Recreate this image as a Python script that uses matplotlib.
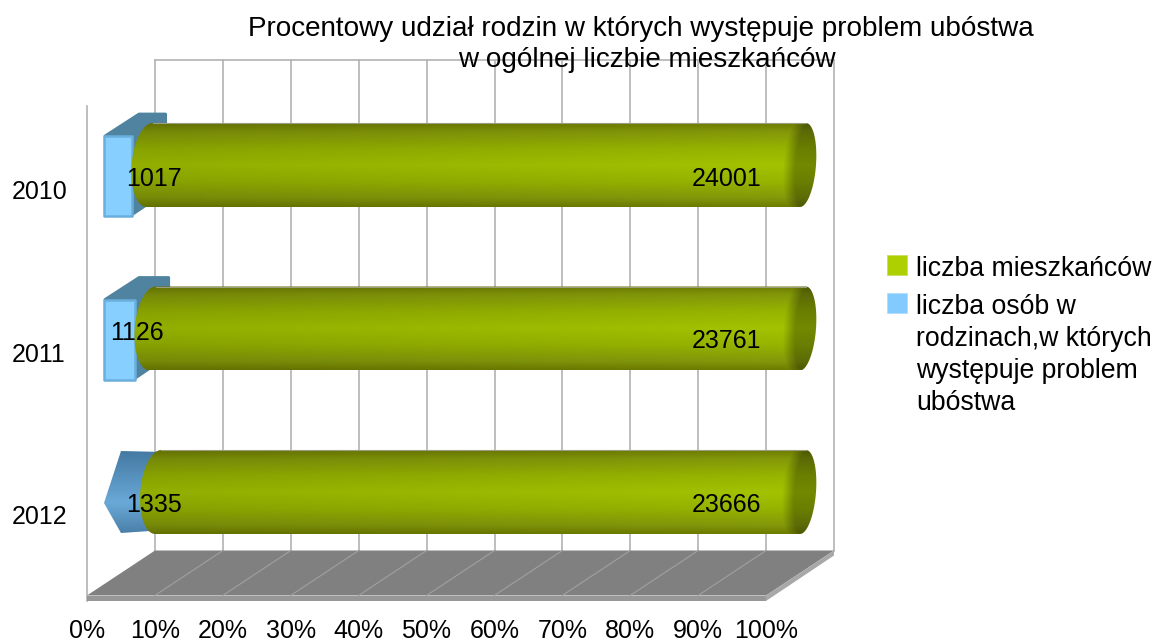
import numpy as np
import matplotlib
matplotlib.use("Agg")
import matplotlib.pyplot as plt
from matplotlib.patches import PathPatch, Polygon, Rectangle
from matplotlib.path import Path
from matplotlib.colors import LinearSegmentedColormap

plt.rcParams['font.family'] = ['Liberation Sans', 'DejaVu Sans']

years = ['2010', '2011', '2012']
residents = [24001, 23761, 23666]
poor = [1017, 1126, 1335]
xticks = [0, 10, 20, 30, 40, 50, 60, 70, 80, 90, 100]
title_lines = ['Procentowy udział rodzin w których występuje problem ubóstwa',
               'w ogólnej liczbie mieszkańców']
legend_labels = ['liczba mieszkańców',
                 'liczba osób w\nrodzinach,w których\nwystępuje problem\nubóstwa']

W, H = 1154, 641
PX = 6.79           # pixels per percent
X0 = 87             # pixel of 0 %
fig = plt.figure(figsize=(W / 100, H / 100), dpi=100)
ax = fig.add_axes([0, 0, 1, 1])
ax.set_xlim(-X0 / PX, (W - X0) / PX)
ax.set_ylim(H, 0)
ax.axis('off')

def dx(px):
    return px / PX

DX, DY = 68, 45          # depth of the floor, in pixels
floor_front = 595.5
floor_back = floor_front - DY
grid = '#b3b3b3'

# walls
for t in xticks:
    ax.plot([t + dx(DX)] * 2, [60, floor_back], color=grid, lw=1.2, zorder=1)
ax.plot([dx(DX), 100 + dx(DX)], [60, 60], color=grid, lw=1.2, zorder=1)
ax.plot([0, 0], [106, floor_front + 5], color=grid, lw=1.2, zorder=1)

# floor
ax.add_patch(Polygon([(0, floor_front), (dx(DX), floor_back), (100 + dx(DX), floor_back), (100, floor_front)],
                     fc='#808080', ec='none', zorder=2))
ax.add_patch(Polygon([(0, floor_front), (100, floor_front), (100, floor_front + 5.5), (0, floor_front + 5.5)],
                     fc='#979797', ec='none', zorder=2))
ax.add_patch(Polygon([(100, floor_front), (100 + dx(DX), floor_back), (100 + dx(DX), floor_back + 5), (100, floor_front + 5.5)],
                     fc='#a8a8a8', ec='none', zorder=2))
for t in xticks[1:-1]:
    ax.plot([t, t + dx(DX)], [floor_front, floor_back], color='#a0a0a0', lw=0.8, zorder=3)

green_stops = [(0, '#6e7e00'), (0.1, '#84990a'), (0.3, '#98b500'), (0.5, '#a4c400'),
               (0.7, '#98b500'), (0.9, '#84990a'), (1, '#6e7e00')]
blue_stops = [(0, '#447aa3'), (0.63, '#6aa9d8'), (1, '#4a80a8')]
green_cmap = LinearSegmentedColormap.from_list('green', green_stops)
blue_cmap = LinearSegmentedColormap.from_list('blue', blue_stops)

def clip_image(rgb, extent, path, zorder):
    im = ax.imshow(rgb, extent=extent, aspect='auto', zorder=zorder, interpolation='bilinear')
    patch = PathPatch(path, transform=ax.transData, fc='none', ec='none')
    ax.add_patch(patch)
    im.set_clip_path(patch)

def ellipse_side(cx, rx, y0, y1, side, skew=3.0, n=40):
    t = np.linspace(-np.pi / 2, np.pi / 2, n)
    ys = (y0 + y1) / 2 + (y1 - y0) / 2 * np.sin(t)
    xs = cx + dx(side * rx * np.cos(t) - skew * np.sin(t))
    if y0 > y1:
        xs = cx + dx(side * rx * np.cos(t) + skew * np.sin(t))
    return list(zip(xs, ys))

centers = [176, 339.5, 503]       # front-face centres of the bar rows, pixels
for i, yr in enumerate(years):
    total = residents[i] + poor[i]
    share = 100 * poor[i] / total
    c = centers[i]
    bx0 = dx(17)
    front_top, front_bot = c - 40, c + 40
    back_top = front_top - 23
    bdx = dx(35)
    if i < 2:
        side = [(bx0 + dx(1), front_top), (bx0 + bdx, back_top + 1), (bx0 + share + bdx - dx(1), back_top + 1),
                (bx0 + share + bdx - dx(1), back_top + 79), (bx0 + share, front_bot - 1), (bx0 + share, front_top)]
        ax.add_patch(Polygon(side, fc='#50839f', ec='#50839f', lw=2, joinstyle='round', zorder=4))
        ax.add_patch(Polygon([(bx0, front_top), (bx0 + share, front_top), (bx0 + share, front_bot), (bx0, front_bot)],
                             fc='#87cfff', ec='#6aaedc', lw=1.8, joinstyle='round', zorder=4.5))
    else:
        pts = [(bx0 + dx(17), c - 52), (bx0, c), (bx0 + dx(17), c + 30),
               (bx0 + dx(46), c + 28), (bx0 + dx(61), c - 51)]
        n = 128
        v = blue_cmap(np.linspace(0, 1, n))[:, :3].reshape(n, 1, 3) * np.ones((n, 8, 3))
        clip_image(v, (bx0, bx0 + dx(61), c + 30, c - 52), Path(pts + [pts[0]]), 4)

    # green cylinder
    y0, y1 = c - 53, c + 31
    rx_l = 18
    cx_l = bx0 + share + dx(rx_l)
    cx_r = bx0 + 100 + dx(20)
    rx_r = 13
    outline = ellipse_side(cx_l, rx_l, y1, y0, -1) + ellipse_side(cx_r, rx_r, y0, y1, 1)
    x_a, x_b = cx_l - dx(rx_l + 3), cx_r + dx(rx_r + 3)
    ny, nx = 100, 500
    yy = np.linspace(0, 1, ny)
    xx = np.linspace(x_a, x_b, nx)
    base = green_cmap(yy)[:, :3].reshape(ny, 1, 3) * np.ones((ny, nx, 3))
    # brightness rises slowly towards the right
    ramp = 0.89 + 0.11 * np.clip((xx - x_a) / (x_b - x_a), 0, 1)
    shade = np.tile(ramp, (ny, 1))
    # dark end cap whose inner edge is the (soft) curved side of the cap
    s = 2 * yy - 1
    edge = cx_r - dx(10) * np.sqrt(np.clip(1 - s ** 2, 0, 1)) - dx(3) * s
    d = (xx[None, :] - edge[:, None]) * PX
    soft = np.clip((d + 10) / 12, 0, 1)
    shade = shade * (1 - 0.30 * soft)
    rgb = base * shade[:, :, None]
    clip_image(rgb, (x_a, x_b, y1, y0), Path(outline + [outline[0]]), 5)
    ax.plot([cx_l + dx(3), cx_r + dx(3)], [y0, y0], color='#9c9c80', lw=0.8, zorder=6)

    # labels
    fs = 18
    lab_x = dx([126, 110, 126][i] - X0)
    ax.text(lab_x, [178.5, 332.5, 504.5][i], f'{poor[i]}', fontsize=fs, va='center', ha='left', zorder=8)
    ax.text(dx(692 - X0), [178.5, 341.5, 504.5][i], f'{residents[i]}', fontsize=fs, va='center', ha='left', zorder=8)
    ax.text(dx(12 - X0), [192, 355, 517][i], yr, fontsize=fs, va='center', ha='left', zorder=8)

for t in xticks:
    ax.text(t, 631, f'{t}%', fontsize=18, ha='center', va='center', zorder=8)

ax.text(dx(640.5 - X0), 29, title_lines[0], fontsize=20.1, ha='center', va='center', zorder=9)
ax.text(dx(646.5 - X0), 60, title_lines[1], fontsize=20.1, ha='center', va='center', zorder=9)

# legend
ax.add_patch(Rectangle((dx(887 - X0), 255), dx(20), 20, fc='#aecf00', ec='#c8df60', lw=0.6, zorder=8))
ax.add_patch(Rectangle((dx(887 - X0), 293), dx(20), 20, fc='#83caff', ec='#b0dcff', lw=0.6, zorder=8))
ax.text(dx(916 - X0), 269, legend_labels[0], fontsize=19.2, va='center', ha='left')
ax.text(dx(916 - X0), 355, legend_labels[1], fontsize=19.2, va='center', ha='left', linespacing=1.31)

ax.set_xlim(-X0 / PX, (W - X0) / PX)
ax.set_ylim(H, 0)
fig.savefig('out.png', dpi=100, facecolor='white')
